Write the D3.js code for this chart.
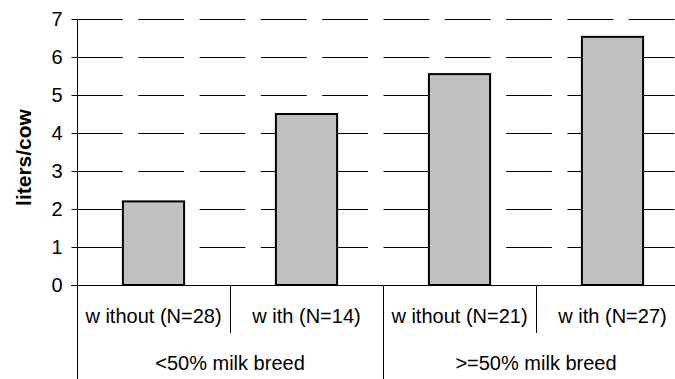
<!DOCTYPE html>
<html>
<head>
<meta charset="utf-8">
<script src="https://cdn.jsdelivr.net/npm/d3@7"></script>
<style>
  html, body { margin: 0; padding: 0; background: #fff; }
  svg { display: block; }
  text { font-family: "Liberation Sans", Arial, sans-serif; fill: #000; }
</style>
</head>
<body>
<svg id="chart" width="675" height="379"></svg>
<script>
const categories = ["w ithout (N=28)", "w ith (N=14)", "w ithout (N=21)", "w ith (N=27)"];
const groups = ["<50% milk breed", ">=50% milk breed"];
const groupOf = [0, 0, 1, 1];
const values = [2.2, 4.5, 5.55, 6.53];
const yTicks = [0, 1, 2, 3, 4, 5, 6, 7];
const yLabel = "liters/cow";

(function () {
const svg = d3.select("#chart");
const pLeft = 77, pRight = 689, pTop = 19, pBottom = 285;

const x = d3.scaleBand().domain(d3.range(categories.length)).range([pLeft, pRight])
  .paddingInner(0.6).paddingOuter(0.3);
const step = x.step();
const y = d3.scaleLinear().domain([0, 7]).range([pBottom, pTop]);

// gridlines
svg.append("g").selectAll("line").data(yTicks.filter(d => d > 0)).join("line")
  .attr("x1", pLeft).attr("x2", pRight)
  .attr("y1", d => Math.round(y(d)) + 0.5).attr("y2", d => Math.round(y(d)) + 0.5)
  .attr("stroke", "#000").attr("stroke-width", 1)
  .attr("stroke-dasharray", "45.8,15.5");

// bars
svg.append("g").selectAll("rect").data(values).join("rect")
  .attr("x", (d, i) => x(i))
  .attr("y", d => y(d))
  .attr("width", x.bandwidth())
  .attr("height", d => y(0) - y(d))
  .attr("fill", "#c0c0c0")
  .attr("stroke", "#000")
  .attr("stroke-width", 2);

// y axis
const yAxis = d3.axisLeft(y).tickValues(yTicks).tickSize(6).tickPadding(9).tickFormat(d3.format("d"));
const gy = svg.append("g").attr("transform", `translate(${pLeft + 0.5},0)`).call(yAxis);
gy.select(".domain").remove();
gy.selectAll(".tick line").attr("stroke", "#000");
gy.selectAll(".tick text").style("font-size", "20px").style("font-family", "'Liberation Sans', Arial, sans-serif");

// axis lines
svg.append("line").attr("x1", pLeft + 0.5).attr("x2", pLeft + 0.5).attr("y1", pTop).attr("y2", 379)
  .attr("stroke", "#000");
svg.append("line").attr("x1", pLeft - 6).attr("x2", pRight).attr("y1", pBottom + 0.5).attr("y2", pBottom + 0.5)
  .attr("stroke", "#000");

// category separators
const seps = d3.range(1, categories.length + 1).map(i => ({
  xv: pLeft + step * i,
  full: i === categories.length || groupOf[i] !== groupOf[i - 1]
}));
svg.append("g").selectAll("line").data(seps).join("line")
  .attr("x1", d => Math.round(d.xv) + 0.5).attr("x2", d => Math.round(d.xv) + 0.5)
  .attr("y1", pBottom).attr("y2", d => d.full ? 379 : 333)
  .attr("stroke", "#000");

// category labels
svg.append("g").selectAll("text").data(categories).join("text")
  .attr("x", (d, i) => x(i) + x.bandwidth() / 2)
  .attr("y", 323)
  .attr("text-anchor", "middle")
  .style("font-size", "20px")
  .text(d => d);

// group labels
svg.append("g").selectAll("text").data(groups).join("text")
  .attr("x", (d, g) => {
    const idx = d3.range(categories.length).filter(i => groupOf[i] === g);
    return (pLeft + step * idx[0] + pLeft + step * (idx[idx.length - 1] + 1)) / 2;
  })
  .attr("y", 370)
  .attr("text-anchor", "middle")
  .style("font-size", "20px")
  .text(d => d);

// y label
svg.append("text")
  .attr("transform", "translate(30.5,157.5) rotate(-90)")
  .attr("text-anchor", "middle")
  .style("font-size", "21px")
  .style("font-weight", "bold")
  .text(yLabel);
})();
</script>
</body>
</html>
